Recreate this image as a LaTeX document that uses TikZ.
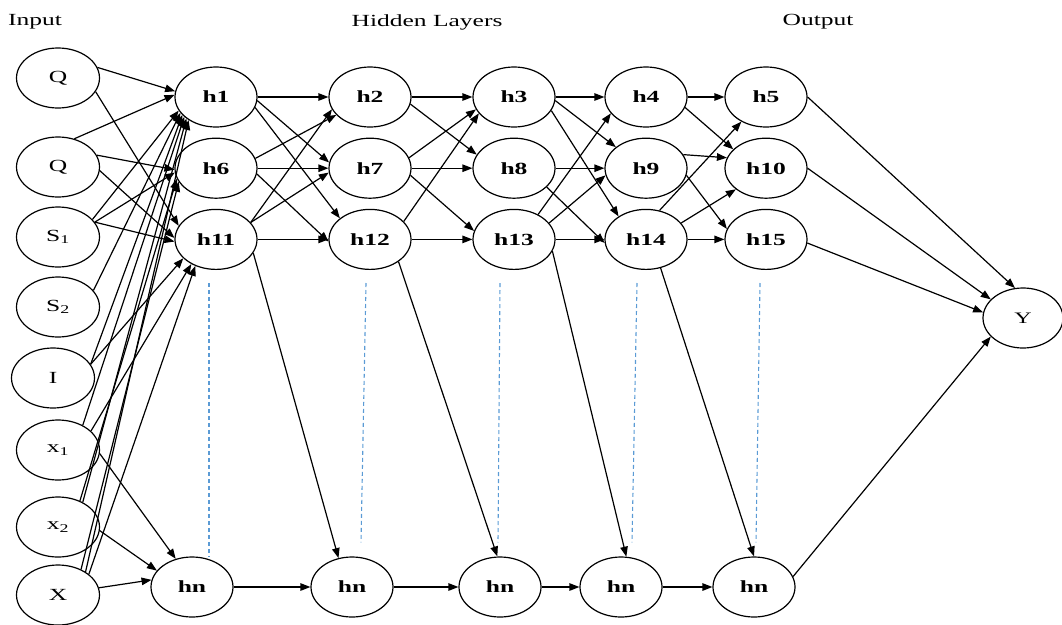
\documentclass[tikz,border=0pt]{standalone}
\usepackage{fontspec}
\setmainfont{Liberation Serif}[FakeStretch=1.5]
\usetikzlibrary{positioning,arrows.meta,calc,shapes.geometric}
\definecolor{dotblue}{RGB}{91,155,213}

\begin{document}
\begin{tikzpicture}[x=1pt, y=-1pt, >={Triangle[length=10pt,width=7.5pt]}, line width=1.2pt,
  unit/.style={draw, ellipse, minimum width=82pt, minimum height=60pt, inner sep=0pt,
    font=\fontsize{17}{20}\selectfont\bfseries},
  inunit/.style={unit, minimum width=83pt, font=\fontsize{17}{20}\selectfont},
  title/.style={font=\fontsize{17}{20}\selectfont},
  dots/.style={draw=dotblue, line width=1.1pt, dash pattern=on 4pt off 3pt}]
  \useasboundingbox (0,0) rectangle (1062,624);

  % titles
  \node[title] (tin)  at (35,22)  {Input};
  \node[title] (thid) at (427,22) {Hidden Layers};
  \node[title] (tout) at (818,22) {Output};

  % input layer
  \node[inunit] (q1) at (58,78)  {Q};
  \node[inunit] (q2) at (58,167) {Q};
  \node[inunit] (s1) at (58,237) {S\textsubscript{1}};
  \node[inunit] (s2) at (58,307) {S\textsubscript{2}};
  \node[inunit] (i)  at (53,378) {I};
  \node[inunit] (x1) at (58,450) {x\textsubscript{1}};
  \node[inunit] (x2) at (58,527) {x\textsubscript{2}};
  \node[inunit] (xx) at (58,595) {X};

  % hidden layers
  \node[unit] (h1) at (216,97) {h1};
  \node[unit, below=10pt of h1] (h6) {h6};
  \node[unit, below=10pt of h6] (h11) {h11};
  \node[unit] (h2) at (370,97) {h2};
  \node[unit, below=10pt of h2] (h7) {h7};
  \node[unit, below=10pt of h7] (h12) {h12};
  \node[unit] (h3) at (514,97) {h3};
  \node[unit, below=10pt of h3] (h8) {h8};
  \node[unit, below=10pt of h8] (h13) {h13};
  \node[unit] (h4) at (646,97) {h4};
  \node[unit, below=10pt of h4] (h9) {h9};
  \node[unit, below=10pt of h9] (h14) {h14};
  \node[unit] (h5) at (766,97) {h5};
  \node[unit, below=10pt of h5] (h10) {h10};
  \node[unit, below=10pt of h10] (h15) {h15};

  \node[unit] (hn1) at (192,587) {hn};
  \node[unit] (hn2) at (352,587) {hn};
  \node[unit] (hn3) at (500,587) {hn};
  \node[unit] (hn4) at (621,587) {hn};
  \node[unit] (hn5) at (754,587) {hn};

  % output
  \node[inunit, minimum width=80pt, font=\fontsize{16}{19}\selectfont] (y) at (1023,318) {Y};

  % input -> first hidden layer
  \draw[->] (q1.15) -- (h1.172);
  \draw[->] (q1.340) -- (h11.160);
  \draw[->] (q2.60) -- (h1.177);
  \draw[->] (q2.17) -- (h6.182);
  \draw[->] (q2.355) -- (h11.178);
  \draw[->] (s1.27) -- (h1.200);
  \draw[->] (s1.22) -- (h6.186);
  \draw[->] (s1.22) -- (h11.183);
  \draw[->] (s2.25) -- (h1.204);
  \draw[->] (i.20) -- (h1.208);
  \draw[->] (i.20) -- (h11.210);
  \draw[->] (x1.45) -- (h1.212);
  \draw[->] (x1.30) -- (h11.225);
  \draw[->] (x1.355) -- (hn1.120);
  \draw[->] (x2.45) -- (h1.216);
  \draw[->] (x2.50) -- (h6.195);
  \draw[->] (x2.355) -- (hn1.155);
  \draw[->] (xx.40) -- (h1.220);
  \draw[->] (xx.48) -- (h6.200);
  \draw[->] (xx.34) -- (h11.232);
  \draw[->] (xx.10) -- (hn1.170);

  % hidden 1 -> hidden 2
  \draw[->] (h1) -- (h2);
  \draw[->] (h1.355) -- (h7.172);
  \draw[->] (h1.345) -- (h12.145);
  \draw[->] (h6.14) -- (h2.208);
  \draw[->] (h6) -- (h7);
  \draw[->] (h6.352) -- (h12.183);
  \draw[->] (h11.26) -- (h2.198);
  \draw[->] (h11.26) -- (h7.186);
  \draw[->] (h11) -- (h12);
  \draw[->] (h11.340) -- (hn2.115);

  % hidden 2 -> hidden 3
  \draw[->] (h2) -- (h3);
  \draw[->] (h2.350) -- (h8.160);
  \draw[->] (h7.15) -- (h3.198);
  \draw[->] (h7) -- (h8);
  \draw[->] (h7.350) -- (h13.168);
  \draw[->] (h12.28) -- (h3.205);
  \draw[->] (h12) -- (h13);
  \draw[->] (h12.322) -- (hn3.95);

  % hidden 3 -> hidden 4
  \draw[->] (h3) -- (h4);
  \draw[->] (h3.355) -- (h9.145);
  \draw[->] (h3.340) -- (h14.140);
  \draw[->] (h8) -- (h9);
  \draw[->] (h8.330) -- (h14.185);
  \draw[->] (h13.46) -- (h4.205);
  \draw[->] (h13.25) -- (h9.190);
  \draw[->] (h13) -- (h14);
  \draw[->] (h13.343) -- (hn4.80);

  % hidden 4 -> hidden 5
  \draw[->] (h4) -- (h5);
  \draw[->] (h4.345) -- (h10.150);
  \draw[->] (h9.20) -- (h10.165);
  \draw[->] (h9.350) -- (h15.165);
  \draw[->] (h14.65) -- (h5.225);
  \draw[->] (h14.25) -- (h10.215);
  \draw[->] (h14) -- (h15);
  \draw[->] (h14.297) -- (hn5.90);

  % hn row
  \draw[->] (hn1) -- (hn2);
  \draw[->] (hn2) -- (hn3);
  \draw[->] (hn3) -- (hn4);
  \draw[->] (hn4) -- (hn5);

  % to output
  \draw[->] (h5.0) -- (y.105);
  \draw[->] (h10.0) -- (y.150);
  \draw[->] (h15.355) -- (y.172);
  \draw[->] (hn5.15) -- (y.210);

  % dotted continuation
  \draw[dots] ($(h11.south)+(-7,13)$) -- ($(hn1.north)+(17,0)$);
  \draw[dots] ($(h12.south)+(-4,13)$) -- ($(hn2.north)+(9,-14)$);
  \draw[dots] ($(h13.south)+(-14,13)$) -- ($(hn3.north)+(-2,-14)$);
  \draw[dots] ($(h14.south)+(-9,13)$) -- ($(hn4.north)+(11,-14)$);
  \draw[dots] ($(h15.south)+(-6,13)$) -- ($(hn5.north)+(2,-14)$);
\end{tikzpicture}
\end{document}
